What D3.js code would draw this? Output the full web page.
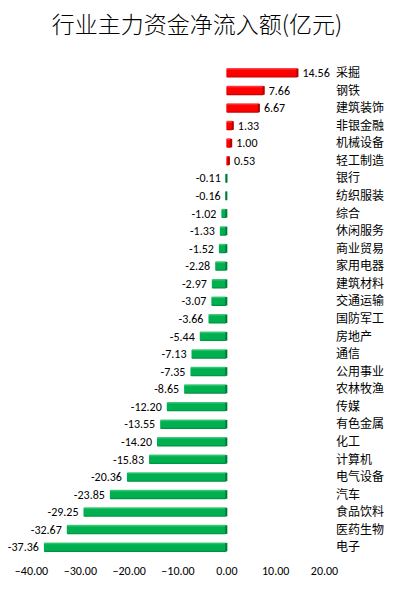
<!DOCTYPE html>
<html><head><meta charset="utf-8">
<script src="https://cdn.jsdelivr.net/npm/d3@7"></script>
<style>body{margin:0;background:#fff;}svg{display:block;}</style>
</head><body>
<svg id="c" width="393" height="589"></svg>
<script>
const categories = ["采掘","钢铁","建筑装饰","非银金融","机械设备","轻工制造","银行","纺织服装","综合","休闲服务","商业贸易","家用电器","建筑材料","交通运输","国防军工","房地产","通信","公用事业","农林牧渔","传媒","有色金属","化工","计算机","电气设备","汽车","食品饮料","医药生物","电子"];
const values = [14.56,7.66,6.67,1.33,1.00,0.53,-0.11,-0.16,-1.02,-1.33,-1.52,-2.28,-2.97,-3.07,-3.66,-5.44,-7.13,-7.35,-8.65,-12.20,-13.55,-14.20,-15.83,-20.36,-23.85,-29.25,-32.67,-37.36];
const tickValues = [-40,-30,-20,-10,0,10,20];
const title = "行业主力资金净流入额(亿元)";

const svg = d3.select("#c");
const x = d3.scaleLinear().domain([-40,20]).range([31,324]);
const y = d3.scaleBand().domain(categories).range([60,560]).padding(0.46);
const data = categories.map((c,i)=>({c, v: values[i]}));

const defs = svg.append("defs");
function grad(id, light, mid, dark){
  const g = defs.append("linearGradient").attr("id",id).attr("x1",0).attr("y1",0).attr("x2",0).attr("y2",1);
  g.append("stop").attr("offset","0%").attr("stop-color",light);
  g.append("stop").attr("offset","25%").attr("stop-color",mid);
  g.append("stop").attr("offset","80%").attr("stop-color",mid);
  g.append("stop").attr("offset","100%").attr("stop-color",dark);
}
grad("gr","#ff5050","#ff0000","#c00000");
grad("gg","#4fd080","#00b050","#008a3c");

svg.append("text").attr("x",197).attr("y",33).attr("text-anchor","middle")
  .attr("font-family","'Noto Sans CJK SC'").attr("font-weight",300).attr("font-size",23)
  .attr("fill","#000").text(title);

const bars = svg.append("g");
bars.selectAll("rect.b").data(data).join("rect").attr("class","b")
  .attr("x", d=>x(Math.min(0,d.v)))
  .attr("y", d=>y(d.c))
  .attr("width", d=>Math.max(1.5, Math.abs(x(d.v)-x(0))))
  .attr("height", y.bandwidth())
  .attr("rx",1)
  .attr("fill", d=> d.v>=0 ? "url(#gr)" : "url(#gg)");
bars.selectAll("rect.cap").data(data).join("rect").attr("class","cap")
  .attr("x", d=>x(Math.max(0,d.v))-1)
  .attr("y", d=>y(d.c)+0.5)
  .attr("width", 2)
  .attr("height", y.bandwidth()-1)
  .attr("fill", d=> d.v>=0 ? "#b00000" : "#007a35");

const lab = svg.append("g").attr("font-family","Calibri, Carlito, 'Liberation Sans', sans-serif").attr("font-size",12).attr("fill","#000");
lab.selectAll("text").data(data).join("text")
  .attr("x", d=> d.v>=0 ? x(d.v)+5 : x(d.v)-5)
  .attr("y", d=>y(d.c)+y.bandwidth()/2)
  .attr("dy","0.35em")
  .attr("text-anchor", d=> d.v>=0 ? "start":"end")
  .text(d=>d.v.toFixed(2));

const cat = svg.append("g").attr("font-family","'Noto Sans CJK SC'").attr("font-size",12).attr("fill","#000");
cat.selectAll("text").data(data).join("text")
  .attr("x",336).attr("y",d=>y(d.c)+y.bandwidth()/2).attr("dy","0.35em")
  .text(d=>d.c);

const ax = svg.append("g").attr("transform","translate(0,563)")
  .call(d3.axisBottom(x).tickValues(tickValues).tickSize(0).tickFormat(d=>d3.format(".2f")(d)));
ax.select(".domain").remove();
ax.selectAll("text").attr("font-family","Calibri, Carlito, 'Liberation Sans', sans-serif").attr("font-size",12).attr("fill","#000");
</script>
</body></html>
